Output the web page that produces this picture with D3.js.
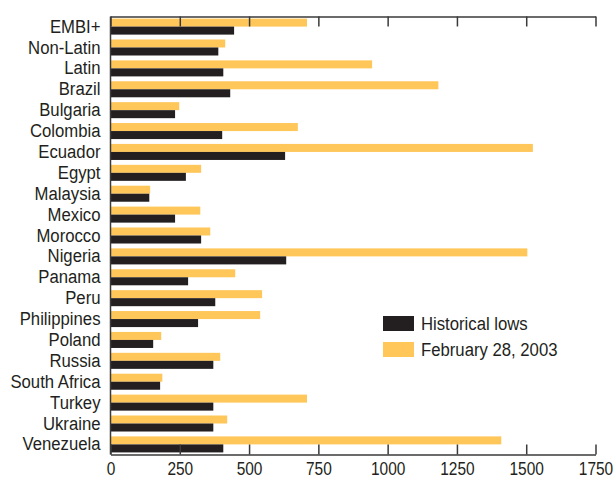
<!DOCTYPE html>
<html>
<head>
<meta charset="utf-8">
<script src="https://cdn.jsdelivr.net/npm/d3@7"></script>
<style>
  html, body { margin: 0; padding: 0; background: #fff; }
  svg text { font-family: "Liberation Sans", Arial, sans-serif; fill: #231f20; }
</style>
</head>
<body>
<svg id="chart" width="615" height="479"></svg>
<script>
// Sovereign spreads: historical lows versus February 28, 2003 (basis points)
const categories = ["EMBI+", "Non-Latin", "Latin", "Brazil", "Bulgaria", "Colombia", "Ecuador",
  "Egypt", "Malaysia", "Mexico", "Morocco", "Nigeria", "Panama", "Peru", "Philippines",
  "Poland", "Russia", "South Africa", "Turkey", "Ukraine", "Venezuela"];
const historicalLows = [446, 389, 407, 432, 233, 403, 630, 272, 140, 233, 327, 634, 280, 378, 316,
  154, 371, 179, 371, 371, 407];
const feb2003 = [709, 414, 944, 1183, 248, 676, 1524, 327, 143, 324, 360, 1504, 450, 547, 540,
  183, 396, 187, 709, 421, 1410];
const seriesNames = ["Historical lows", "February 28, 2003"];
const seriesColors = ["#231f20", "#ffc75a"];
const xTicks = [0, 250, 500, 750, 1000, 1250, 1500, 1750];

const svg = d3.select("#chart");
const plotLeft = 110.5, plotRight = 595.5, plotTop = 16.5, plotBottom = 454.5;
// condensed look: squeeze the regular sans horizontally
const labelSqueeze = 0.88, digitSqueeze = 0.86;

const x = d3.scaleLinear().domain([0, 1750]).range([plotLeft, plotRight]);
const y = d3.scaleBand().domain(categories).range([plotTop, plotBottom]).paddingInner(0.233).paddingOuter(0.1);
// inside each band: February 2003 on top, historical low below
const sub = d3.scaleBand().domain(["feb", "low"]).range([0, y.bandwidth()]);

const rows = categories.map((c, i) => ({ c, low: historicalLows[i], feb: feb2003[i] }));

const g = svg.append("g");
g.selectAll("rect.feb").data(rows).join("rect")
  .attr("class", "feb")
  .attr("x", x(0)).attr("y", d => y(d.c) + sub("feb"))
  .attr("width", d => x(d.feb) - x(0)).attr("height", sub.bandwidth())
  .attr("fill", seriesColors[1]);
g.selectAll("rect.low").data(rows).join("rect")
  .attr("class", "low")
  .attr("x", x(0)).attr("y", d => y(d.c) + sub("low"))
  .attr("width", d => x(d.low) - x(0)).attr("height", sub.bandwidth())
  .attr("fill", seriesColors[0]);

// axes
const axisColor = "#3a3a3a";
const bottomAxis = d3.axisBottom(x).tickValues(xTicks).tickFormat(d3.format("d"))
  .tickSize(-10).tickPadding(10).tickSizeOuter(0);
const gb = svg.append("g").attr("transform", `translate(0,${plotBottom})`).call(bottomAxis);
const topAxis = d3.axisTop(x).tickValues(xTicks).tickSize(-10).tickFormat("").tickSizeOuter(0);
const gt = svg.append("g").attr("transform", `translate(0,${plotTop})`).call(topAxis);
[gb, gt].forEach(a => {
  a.select(".domain").attr("stroke", axisColor).attr("stroke-width", 1.5);
  a.selectAll(".tick line").attr("stroke", axisColor).attr("stroke-width", 1.5);
});
gb.selectAll(".tick text")
  .attr("font-size", 18).attr("dy", "0.71em").attr("y", null)
  .attr("transform", `translate(0,7.5) scale(${digitSqueeze},1)`)
  .style("font-family", '"Liberation Sans", Arial, sans-serif').attr("fill", "#231f20");

const leftAxis = d3.axisLeft(y).tickSize(0).tickPadding(10);
const gl = svg.append("g").attr("transform", `translate(${plotLeft},0)`).call(leftAxis);
gl.select(".domain").attr("stroke", axisColor).attr("stroke-width", 1.5).attr("d", `M0,${plotTop}V${plotBottom}`);
gl.selectAll(".tick text")
  .attr("font-size", 19).attr("x", null)
  .attr("transform", `translate(-10,0) scale(${labelSqueeze},1)`)
  .style("font-family", '"Liberation Sans", Arial, sans-serif').attr("fill", "#231f20");

// legend
const legend = svg.append("g").attr("transform", "translate(383,316)");
seriesNames.forEach((name, i) => {
  const row = legend.append("g").attr("transform", `translate(0,${i * 26})`);
  row.append("rect").attr("width", 31).attr("height", 15).attr("fill", seriesColors[i]);
  row.append("text").attr("transform", `translate(38,7.5) scale(${labelSqueeze},1)`)
    .attr("dy", "0.35em").attr("font-size", 19).text(name);
});
</script>
</body>
</html>
